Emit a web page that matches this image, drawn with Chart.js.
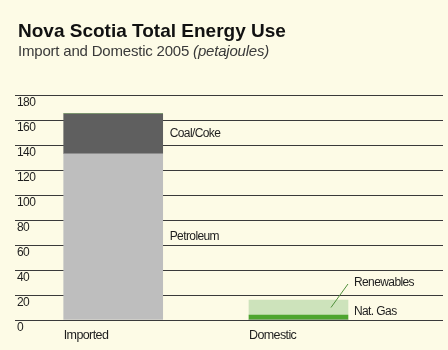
<!DOCTYPE html>
<html>
<head>
<meta charset="utf-8">
<script src="https://cdn.jsdelivr.net/npm/chart.js@4/dist/chart.umd.min.js"></script>
<style>
    html, body { margin: 0; padding: 0; background: #fdfbe6; }
    #wrap { position: relative; width: 448px; height: 350px; overflow: hidden; }
    #head { position: absolute; left: 18px; top: 20px; color: #111; font-family: "Liberation Sans", Arial, sans-serif; }
    #head h1 { margin: 0; font-size: 19px; font-weight: bold; letter-spacing: 0; line-height: 22px; }
    #head p { margin: 0; font-size: 15px; color: #3a3a3a; line-height: 18px; letter-spacing: -0.2px; }
    canvas { position: absolute; left: 0; top: 0; }
</style>
</head>
<body>
<div id="wrap">
    <canvas id="chart1" width="448" height="350"></canvas>
    <div id="head">
        <h1>Nova Scotia Total Energy Use</h1>
        <p>Import and Domestic 2005 <em>(petajoules)</em></p>
    </div>
</div>
<script>
(function () {
    'use strict';

    var categories = ['Imported', 'Domestic'];
    var petroleum = [133, 0];
    var coalCoke = [32, 0];
    var natGas = [0, 4];
    var renewables = [0, 12];
    var yTicks = [0, 20, 40, 60, 80, 100, 120, 140, 160, 180];

    var face = '"Liberation Sans", Arial, sans-serif';

    function points(values) {
        return values.map(function (v, i) { return {x: i, y: v}; });
    }

    // tighter text everywhere on the canvas, close to a condensed face
    var tightText = {
        id: 'tightText',
        beforeDraw: function (chart) {
            chart.ctx.letterSpacing = '-0.6px';
        }
    };

    // side labels for each stacked segment, plus category names under bars
    var segmentLabels = {
        id: 'segmentLabels',
        afterDatasetsDraw: function (chart) {
            var ctx = chart.ctx;
            ctx.save();
            ctx.letterSpacing = '-0.6px';
            ctx.font = '12px ' + face;
            ctx.fillStyle = '#1e1e1e';
            ctx.textBaseline = 'middle';
            ctx.textAlign = 'left';

            chart.data.datasets.forEach(function (ds, di) {
                var meta = chart.getDatasetMeta(di);
                meta.data.forEach(function (bar, i) {
                    if (!ds.data[i].y) return;
                    var right = bar.x + bar.width / 2;
                    var mid = (bar.y + bar.base) / 2;
                    if (ds.label === 'Renewables') {
                        ctx.strokeStyle = '#4f8f3a';
                        ctx.lineWidth = 1;
                        ctx.beginPath();
                        ctx.moveTo(right - 17, mid);
                        ctx.lineTo(right, bar.y - 16);
                        ctx.stroke();
                        ctx.fillText(ds.label, right + 6, bar.y - 17);
                    } else if (ds.label === 'Nat. Gas') {
                        ctx.fillText(ds.label, right + 6, mid - 6);
                    } else {
                        ctx.fillText(ds.label, right + 7, mid);
                    }
                });
            });

            ctx.font = '12.5px ' + face;
            var meta0 = chart.getDatasetMeta(0);
            categories.forEach(function (name, i) {
                var bar = meta0.data[i];
                ctx.fillText(name, bar.x - bar.width / 2, chart.chartArea.bottom + 16);
            });
            ctx.restore();
        }
    };

    new Chart(document.getElementById('chart1'), {
        type: 'bar',
        data: {
            datasets: [
                {label: 'Petroleum', data: points(petroleum), backgroundColor: '#bebebe'},
                {label: 'Coal/Coke', data: points(coalCoke), backgroundColor: '#5f5f5f'},
                {label: 'Nat. Gas', data: points(natGas), backgroundColor: '#4ea52f'},
                {label: 'Renewables', data: points(renewables), backgroundColor: '#cde3bb'}
            ]
        },
        options: {
            responsive: false,
            animation: false,
            // the mirrored y ticks reserve 2 x padding on the left
            layout: {padding: {left: 11, right: 5, top: 95, bottom: 30}},
            plugins: {legend: {display: false}, tooltip: {enabled: false}},
            datasets: {bar: {barThickness: 99, borderWidth: 0}},
            scales: {
                x: {
                    type: 'linear',
                    stacked: true,
                    offset: false,
                    min: -0.53,
                    max: 1.78,
                    display: false
                },
                y: {
                    stacked: true,
                    min: 0,
                    max: 180,
                    afterBuildTicks: function (scale) {
                        scale.ticks = yTicks.map(function (v) { return {value: v}; });
                    },
                    border: {display: false},
                    grid: {color: '#3a3a3a', lineWidth: 1, drawTicks: false},
                    ticks: {
                        mirror: true,
                        padding: 2,
                        labelOffset: 8,
                        color: '#1e1e1e',
                        font: {family: face, size: 12}
                    }
                }
            }
        },
        plugins: [tightText, segmentLabels]
    });
})();
</script>
</body>
</html>
